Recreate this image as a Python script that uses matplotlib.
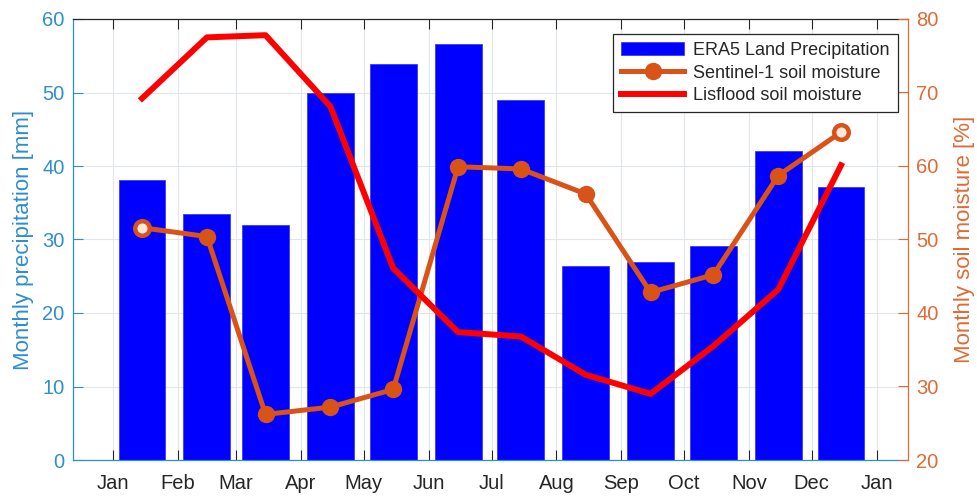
import datetime as dt

import matplotlib

matplotlib.use("Agg")
import matplotlib.dates as mdates
import matplotlib.pyplot as plt

plt.rcParams["font.family"] = ["Liberation Sans", "DejaVu Sans"]

# mid-month dates of the monthly values
dates = [dt.datetime(2019, m, 15) for m in range(1, 13)]

precip = [38.1, 33.5, 32.0, 50.0, 53.9, 56.6, 49.0, 26.4, 27.0, 29.1, 42.0, 37.2]
sentinel = [51.6, 50.4, 26.2, 27.2, 29.6, 59.9, 59.6, 56.2, 42.8, 45.2, 58.7, 64.6]
lisflood = [69.2, 77.5, 77.8, 68.1, 46.1, 37.4, 36.8, 31.6, 29.0, 35.5, 43.2, 60.1]

left_color = "#2f8ecc"
right_color = "#e06a35"
dark = "#262626"

fig = plt.figure(figsize=(9.78, 4.97), dpi=100)
ax = fig.add_axes([73 / 978, 37 / 497, 835 / 978, 441 / 497])

ax.bar(dates, precip, width=22.4, color="#0000ff", edgecolor="#3a3aff",
       linewidth=0.6, label="ERA5 Land Precipitation", zorder=2)
ax.set_ylim(0, 60)
ax.set_yticks(range(0, 61, 10))
ax.set_xlim(dt.datetime(2018, 12, 13), dt.datetime(2020, 1, 16))
ax.xaxis.set_major_locator(mdates.MonthLocator())
ax.xaxis.set_major_formatter(mdates.DateFormatter("%b"))
ax.grid(True, color="#dfe6ec", linewidth=0.8, zorder=0)
ax.set_axisbelow(True)

ax.set_ylabel("Monthly precipitation [mm]", color=left_color, fontsize=16,
              labelpad=6)
ax.tick_params(axis="y", colors=left_color, labelsize=14.5, direction="in",
               length=7, width=0.8)
ax.tick_params(axis="x", colors=dark, labelcolor=dark, labelsize=14.5,
               direction="in", length=7, width=0.8, top=True, pad=10)
ax.tick_params(axis="y", pad=6)
ax.spines["left"].set_color(left_color)
ax.spines["bottom"].set_color(left_color)
ax.spines["top"].set_color(dark)
ax.spines["right"].set_visible(False)
for s in ax.spines.values():
    s.set_linewidth(0.9)

ax2 = ax.twinx()
ax2.plot(dates, sentinel, color="#d95319", linewidth=3.6, marker="o",
         markersize=11.5, markevery=list(range(1, len(dates) - 1)),
         label="Sentinel-1 soil moisture", zorder=3)
ax2.plot([dates[0], dates[-1]], [sentinel[0], sentinel[-1]], linestyle="none",
         marker="o", markersize=10.5, markerfacecolor="#fbe9e0",
         markeredgecolor="#d95319", markeredgewidth=3.2, zorder=4)
ax2.plot(dates, lisflood, color="#ff0000", linewidth=4.3,
         label="Lisflood soil moisture", zorder=3)
ax2.set_ylim(20, 80)
ax2.set_yticks(range(20, 81, 10))
ax2.set_ylabel("Monthly soil moisture [%]", color=right_color, fontsize=16,
               labelpad=11)
ax2.tick_params(axis="y", colors=right_color, labelsize=14.5, direction="in",
                length=7, width=0.8, pad=6)
ax2.spines["right"].set_color(right_color)
ax2.spines["right"].set_linewidth(0.9)
for side in ["left", "top", "bottom"]:
    ax2.spines[side].set_visible(False)

h1, l1 = ax.get_legend_handles_labels()
h2, l2 = ax2.get_legend_handles_labels()
leg = ax2.legend(h1 + h2, l1 + l2, loc="upper right",
                 bbox_to_anchor=(898 / 978, 1 - 34 / 497),
                 bbox_transform=fig.transFigure, borderaxespad=0,
                 fontsize=13, fancybox=False, framealpha=1, edgecolor=dark,
                 handlelength=3.5, labelspacing=0.3, borderpad=0.45,
                 handletextpad=0.5)
leg.get_frame().set_linewidth(0.9)
for t in leg.get_texts():
    t.set_color(dark)

fig.savefig("out.png", dpi=100)
